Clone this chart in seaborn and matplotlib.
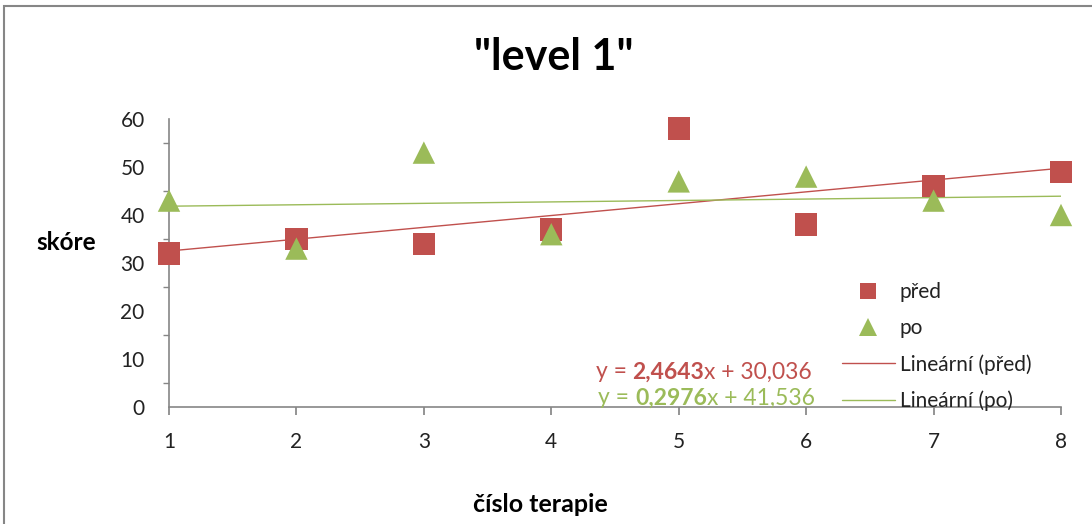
import matplotlib
matplotlib.use("Agg")
import matplotlib.pyplot as plt
import seaborn as sns
import pandas as pd
import numpy as np
from matplotlib.lines import Line2D
from matplotlib.offsetbox import TextArea, HPacker, AnnotationBbox
from matplotlib.patches import Rectangle

sessions = [1, 2, 3, 4, 5, 6, 7, 8]
pred = [32, 35, 34, 37, 58, 38, 46, 49]
po = [43, 33, 53, 36, 47, 48, 43, 40]
series_names = ["před", "po"]
trend_names = ["Lineární (před)", "Lineární (po)"]
colors = {"před": "#C0504D", "po": "#9BBB59"}
markers = {"před": "s", "po": "^"}

sns.set_theme(style="white")
plt.rcParams["font.family"] = ["Lato", "DejaVu Sans"]

df = pd.DataFrame({
    "session": sessions * 2,
    "score": pred + po,
    "series": ["před"] * len(pred) + ["po"] * len(po),
})

fig = plt.figure(figsize=(10.92, 5.24), dpi=100)
fig.patches.append(Rectangle((4 / 1092, -0.05), 1.2, (524 - 6) / 524 + 0.05,
                             transform=fig.transFigure, fill=False,
                             edgecolor="#868686", linewidth=1.5))
ax = fig.add_axes([169 / 1092, 1 - 407 / 524, (1061 - 169) / 1092, (407 - 119) / 524])

sns.scatterplot(data=df, x="session", y="score", hue="series", style="series",
                palette=colors, markers=markers, s=260, linewidth=0,
                ax=ax, legend=False, zorder=3, clip_on=False)

fits = {}
for name, vals in zip(series_names, [pred, po]):
    sub = df[df["series"] == name]
    sns.regplot(data=sub, x="session", y="score", scatter=False, ci=None,
                truncate=True, ax=ax,
                line_kws={"color": colors[name], "linewidth": 1.0, "zorder": 2})
    fits[name] = np.polyfit(sessions, vals, 1)

ax.set_xlim(1, 8)
ax.set_ylim(0, 60)
ax.set_xticks(sessions)
ax.set_yticks(range(0, 61, 10))
ax.set_yticks(range(0, 61, 5), minor=True)
ax.tick_params(axis="both", which="both", direction="out", colors="#868686",
               labelcolor="#222222", labelsize=15)
ax.tick_params(axis="y", which="major", length=6.5, pad=11)
ax.tick_params(axis="y", which="minor", length=4.3, left=True)
ax.tick_params(axis="x", which="major", length=6, pad=12, bottom=True)
for side in ["top", "right"]:
    ax.spines[side].set_visible(False)
for side in ["left", "bottom"]:
    ax.spines[side].set_color("#868686")
    ax.spines[side].set_linewidth(1.2)
ax.set_xlabel("")
ax.set_ylabel("")

fig.text(554 / 1092, 1 - 57 / 524, '"level 1"', ha="center", va="center",
         fontsize=31, fontweight="bold", color="black")
fig.text(66 / 1092, 1 - 242 / 524, "skóre", ha="center", va="center",
         fontsize=17.5, fontweight="bold", color="black")
fig.text(540 / 1092, 1 - 504 / 524, "číslo terapie", ha="center", va="center",
         fontsize=18, fontweight="bold", color="black")

# trendline equations
def fmt(v, nd):
    return f"{v:.{nd}f}".replace(".", ",")

eq_pos = {"před": (812, 372), "po": (815, 398)}
for name in series_names:
    slope, intercept = fits[name]
    c = colors[name]
    parts = [
        TextArea("y = ", textprops=dict(color=c, fontsize=16.5)),
        TextArea(fmt(slope, 4), textprops=dict(color=c, fontsize=16.5, fontweight="bold")),
        TextArea("x + " + fmt(intercept, 3), textprops=dict(color=c, fontsize=16.5)),
    ]
    box = HPacker(children=parts, align="baseline", pad=0, sep=0)
    px, py = eq_pos[name]
    ab = AnnotationBbox(box, (px / 1092, 1 - py / 524), xycoords="figure fraction",
                        box_alignment=(1, 0.5), frameon=False, pad=0)
    fig.add_artist(ab)

handles = [
    Line2D([], [], linestyle="none", marker="s", markersize=12,
           markerfacecolor=colors["před"], markeredgewidth=0),
    Line2D([], [], linestyle="none", marker="^", markersize=13,
           markerfacecolor=colors["po"], markeredgewidth=0),
    Line2D([], [], color=colors["před"], linewidth=1.0),
    Line2D([], [], color=colors["po"], linewidth=1.0),
]
leg = fig.legend(handles, series_names + trend_names, loc="upper left",
                 bbox_to_anchor=(832 / 1092, 1 - 272 / 524), frameon=False,
                 fontsize=15, handlelength=2.5, handletextpad=0.25,
                 labelspacing=0.76, borderpad=0)
for t in leg.get_texts():
    t.set_color("#222222")

fig.savefig("out.png", dpi=100)
